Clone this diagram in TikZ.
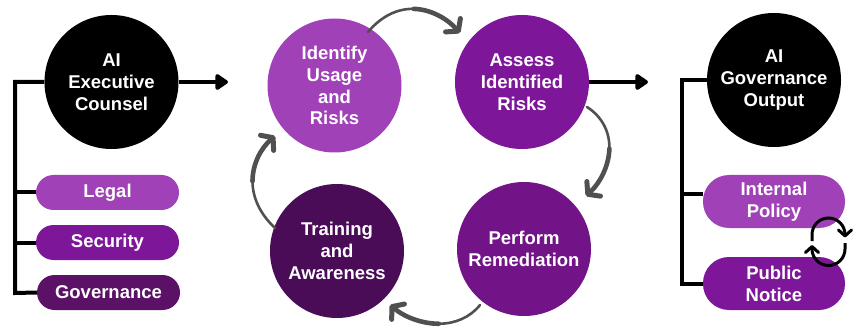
\documentclass[tikz,border=0pt]{standalone}
\usepackage{fontspec}
\setmainfont{Liberation Sans}
\usetikzlibrary{arrows.meta}
\definecolor{pLight}{HTML}{A041B8}
\definecolor{pMid}{HTML}{7E1699}
\definecolor{pMid2}{HTML}{721388}
\definecolor{pDark}{HTML}{5A1166}
\definecolor{pDeep}{HTML}{4A0C56}
\definecolor{arrgrey}{HTML}{505050}
\pgfdeclarelayer{bg}
\pgfsetlayers{bg,main}
\begin{document}
\begin{tikzpicture}[x=1pt,y=-1pt,
  txt/.style={text=white,font=\bfseries\fontsize{18.5}{21.8}\selectfont,align=center},
  bigcirc/.style={circle,minimum size=134pt,inner sep=0pt,txt},
  pill/.style={rectangle,rounded corners=17.5pt,minimum width=143pt,minimum height=35pt,inner sep=0pt,txt},
  tallpill/.style={rectangle,rounded corners=26pt,minimum width=142pt,minimum height=53pt,inner sep=0pt,txt},
  bracket/.style={line width=4pt,black},
  blk/.style={line width=4pt,black,-{Triangle[length=14pt,width=18pt,round]}},
  grtail/.style={line width=2.6pt,arrgrey,line cap=round},
  grarrow/.style={line width=4.6pt,arrgrey,line cap=round,-{Straight Barb[length=8pt,width=20pt,line width=5pt,round]}},
  smallcyc/.style={line width=3pt,black,-{Straight Barb[length=6pt,width=13pt,line width=3pt,round]}}
]
\useasboundingbox (0,0) rectangle (859,331);

% left group
\node[bigcirc,fill=black] (exec) at (111.5,82) {AI\\Executive\\Counsel};
\node[pill,fill=pLight] (legal) at (107.5,192.5) {Legal};
\node[pill,fill=pMid] (sec) at (107.5,242.5) {Security};
\node[pill,fill=pDark] (gov) at (108.5,292.5) {Governance};
\coordinate (lbot) at (15,293);
\coordinate (ar1) at (228,82);

% cycle
\node[bigcirc,fill=pLight] (ident) at (334.5,85.5) {Identify\\Usage\\and\\Risks};
\node[bigcirc,fill=pMid] (assess) at (522,82) {Assess\\Identified\\Risks};
\node[bigcirc,fill=pMid2] (perform) at (524,249) {Perform\\Remediation};
\node[bigcirc,fill=pDeep] (train) at (337,251) {Training\\and\\Awareness};
\coordinate (ar2) at (648,82);

% right group
\node[bigcirc,fill=black] (gout) at (774,80) {AI\\Governance\\Output};
\node[tallpill,fill=pLight] (ipol) at (774,201.5) {Internal\\Policy};
\node[tallpill,fill=pMid] (pub) at (774,283.5) {Public\\Notice};
\coordinate (rbot) at (682,283.5);

\begin{pgfonlayer}{bg}
  \draw[bracket] (exec.west) -| (lbot) -- (gov.west);
  \draw[bracket] (legal.west) -- (legal.west -| lbot);
  \draw[bracket] (sec.west) -- (sec.west -| lbot);
  \draw[bracket] (gout.west) -| (rbot) -- (pub.west);
  \draw[bracket] (ipol.174) -- (ipol.174 -| rbot);
\end{pgfonlayer}

\draw[blk] (exec.east) -- (ar1);
\draw[blk] (assess.east) -- (ar2);

% grey cycle arrows (thin tail half, thick head half)
\coordinate (g1s) at (368,32);  \coordinate (g1m) at (413.625,8.875); \coordinate (g1e) at (460,33);
\coordinate (g2s) at (587,107); \coordinate (g2m) at (609.375,148.5); \coordinate (g2e) at (586,196);
\coordinate (g3s) at (480,305); \coordinate (g3m) at (438.75,323.75); \coordinate (g3e) at (390,305);
\coordinate (g4s) at (275,228); \coordinate (g4m) at (252.5,181.25); \coordinate (g4e) at (275,136);
\draw[grtail] (g1s) .. controls (381.5,16) and (397.5,8.5) .. (g1m);
\draw[grarrow] (g1m) .. controls (429.75,9.25) and (446,17.5) .. (g1e);
\draw[grtail] (g2s) .. controls (602.5,117) and (609.75,132.25) .. (g2m);
\draw[grarrow] (g2m) .. controls (609,164.75) and (601,182) .. (g2e);
\draw[grtail] (g3s) .. controls (470,317.5) and (455,323.75) .. (g3m);
\draw[grarrow] (g3m) .. controls (422.5,323.75) and (405,317.5) .. (g3e);
\draw[grtail] (g4s) .. controls (260,214) and (252.5,197.5) .. (g4m);
\draw[grarrow] (g4m) .. controls (252.5,165) and (260,149) .. (g4e);

% small exchange arrows
\coordinate (c1s) at (812,241);
\coordinate (c2s) at (845,243);
\draw[smallcyc] (c1s) -- (812,234.5) arc[start angle=180,end angle=360,radius=16.5] -- (845,237.5);
\draw[smallcyc] (c2s) -- (845,249) arc[start angle=0,end angle=180,radius=16.5] -- (812,245);
\end{tikzpicture}
\end{document}
